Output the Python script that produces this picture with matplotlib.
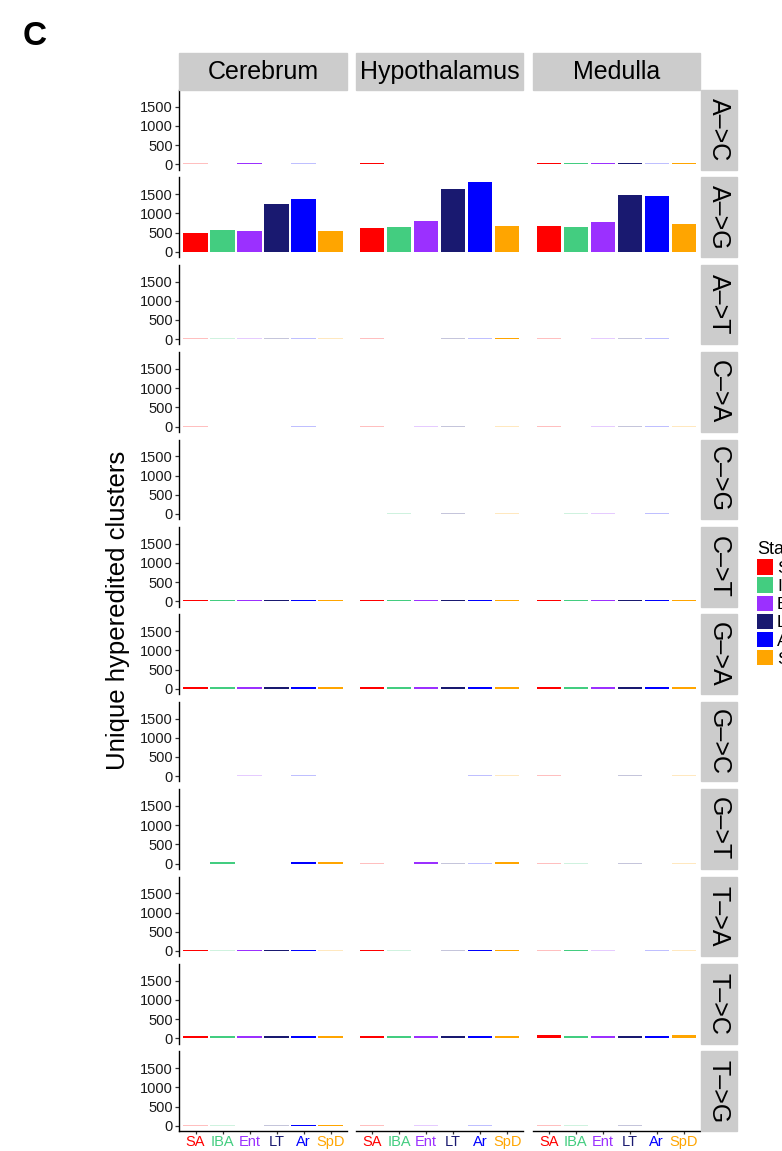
import matplotlib
matplotlib.use("Agg")
import matplotlib.pyplot as plt
from matplotlib.patches import Rectangle, Patch

plt.rcParams["font.family"] = ["Liberation Sans", "DejaVu Sans"]

tissues = ["Cerebrum", "Hypothalamus", "Medulla"]
states = ["SA", "IBA", "Ent", "LT", "Ar", "SpD"]
state_colors = ["#FF0000", "#43CD80", "#9B30FF", "#191970", "#0000FF", "#FFA500"]
mutations = ["A–>C", "A–>G", "A–>T", "C–>A", "C–>G", "C–>T",
             "G–>A", "G–>C", "G–>T", "T–>A", "T–>C", "T–>G"]

# unique hyperedited clusters per mutation (rows) and state (columns)
cerebrum_counts = [
    [25, 0, 25, 0, 25, 0],
    [490, 560, 540, 1250, 1380, 540],
    [25, 25, 25, 25, 25, 20],
    [25, 0, 0, 0, 25, 0],
    [0, 0, 0, 0, 0, 0],
    [35, 35, 35, 35, 35, 30],
    [35, 35, 35, 35, 35, 35],
    [0, 0, 20, 0, 25, 0],
    [0, 30, 0, 0, 30, 30],
    [35, 25, 35, 35, 35, 25],
    [55, 55, 55, 50, 50, 55],
    [20, 20, 0, 20, 30, 30],
]
hypothalamus_counts = [
    [30, 0, 20, 0, 20, 20],
    [610, 640, 800, 1640, 1820, 670],
    [25, 0, 0, 25, 25, 30],
    [25, 0, 25, 25, 0, 25],
    [0, 25, 0, 25, 0, 25],
    [35, 35, 35, 35, 35, 30],
    [35, 35, 35, 35, 35, 35],
    [0, 0, 0, 0, 25, 20],
    [20, 0, 30, 20, 25, 30],
    [35, 20, 0, 25, 35, 35],
    [55, 55, 55, 50, 50, 55],
    [20, 0, 20, 0, 20, 0],
]
medulla_counts = [
    [30, 30, 30, 30, 25, 30],
    [665, 640, 770, 1480, 1460, 715],
    [25, 0, 25, 25, 25, 0],
    [25, 0, 25, 25, 25, 25],
    [0, 25, 25, 0, 25, 0],
    [35, 35, 35, 35, 35, 30],
    [35, 35, 35, 35, 35, 35],
    [20, 0, 0, 20, 0, 20],
    [20, 20, 0, 20, 0, 20],
    [20, 35, 20, 0, 20, 20],
    [80, 55, 55, 50, 50, 75],
    [20, 20, 0, 20, 0, 0],
]

# 1 = significant (solid), 0 = not significant (faded)
cerebrum_sig = [
    [0, 0, 1, 0, 0, 0],
    [1, 1, 1, 1, 1, 1],
    [0, 0, 0, 0, 0, 0],
    [0, 0, 0, 0, 0, 0],
    [0, 0, 0, 0, 0, 0],
    [1, 1, 1, 1, 1, 1],
    [1, 1, 1, 1, 1, 1],
    [0, 0, 0, 0, 0, 0],
    [0, 1, 0, 0, 1, 1],
    [1, 0, 1, 1, 1, 0],
    [1, 1, 1, 1, 1, 1],
    [0, 0, 0, 0, 1, 1],
]
hypothalamus_sig = [
    [1, 0, 0, 0, 0, 0],
    [1, 1, 1, 1, 1, 1],
    [0, 0, 0, 0, 0, 1],
    [0, 0, 0, 0, 0, 0],
    [0, 0, 0, 0, 0, 0],
    [1, 1, 1, 1, 1, 1],
    [1, 1, 1, 1, 1, 1],
    [0, 0, 0, 0, 0, 0],
    [0, 0, 1, 0, 0, 1],
    [1, 0, 0, 0, 1, 1],
    [1, 1, 1, 1, 1, 1],
    [0, 0, 0, 0, 0, 0],
]
medulla_sig = [
    [1, 1, 1, 1, 0, 1],
    [1, 1, 1, 1, 1, 1],
    [0, 0, 0, 0, 0, 0],
    [0, 0, 0, 0, 0, 0],
    [0, 0, 0, 0, 0, 0],
    [1, 1, 1, 1, 1, 1],
    [1, 1, 1, 1, 1, 1],
    [0, 0, 0, 0, 0, 0],
    [0, 0, 0, 0, 0, 0],
    [0, 1, 0, 0, 0, 0],
    [1, 1, 1, 1, 1, 1],
    [0, 0, 0, 0, 0, 0],
]

counts_by_tissue = [cerebrum_counts, hypothalamus_counts, medulla_counts]
sig_by_tissue = [cerebrum_sig, hypothalamus_sig, medulla_sig]

W, H = 782, 1151
fig = plt.figure(figsize=(W / 100, H / 100), dpi=100)


def fbox(x, y, w, h):
    return [x / W, 1 - (y + h) / H, w / W, h / H]


col_left = [179.3, 355.9, 532.5]
panel_w = 167.5
row_top0, row_pitch, panel_h = 90.0, 87.4, 79.5
strip_gray = "#CCCCCC"
x = list(range(1, len(states) + 1))

for c, tissue in enumerate(tissues):
    # column strip
    fig.patches.append(Rectangle((col_left[c] / W, 1 - 90 / H), panel_w / W, 36.7 / H,
                                 transform=fig.transFigure, color=strip_gray, zorder=0))
    fig.text((col_left[c] + panel_w / 2) / W, 1 - 72 / H, tissue,
             ha="center", va="center", fontsize=18)
    for r, mut in enumerate(mutations):
        top = row_top0 + r * row_pitch
        ax = fig.add_axes(fbox(col_left[c], top, panel_w, panel_h))
        vals = counts_by_tissue[c][r]
        sig = sig_by_tissue[c][r]
        for xi, v, s, col in zip(x, vals, sig, state_colors):
            ax.bar(xi, v, width=0.9, color=col, alpha=1.0 if s else 0.25, linewidth=0)
        ax.set_xlim(0.4, 6.6)
        ax.set_ylim(-135, 1935)
        for side in ["top", "right"]:
            ax.spines[side].set_visible(False)
        ax.spines["left"].set_visible(c == 0)
        ax.spines["bottom"].set_visible(r == len(mutations) - 1)
        ax.spines["left"].set_linewidth(1.0)
        ax.spines["bottom"].set_linewidth(1.0)
        ax.tick_params(axis="y", length=3.0, width=0.9, color="#333333",
                       labelsize=10.5, labelcolor="#1a1a1a", pad=1.5)
        ax.tick_params(axis="x", length=2.5, width=0.9, color="#333333",
                       labelsize=10.5, pad=0.5)
        if c == 0:
            ax.set_yticks([0, 500, 1000, 1500])
        else:
            ax.set_yticks([])
        if r == len(mutations) - 1:
            ax.set_xticks(x)
            ax.set_xticklabels(states)
            for lbl, col in zip(ax.get_xticklabels(), state_colors):
                lbl.set_color(col)
        else:
            ax.set_xticks([])
        if c == len(tissues) - 1:
            # row strip on the right
            fig.patches.append(Rectangle((700.5 / W, 1 - (top + panel_h) / H), 36.5 / W,
                                         panel_h / H, transform=fig.transFigure,
                                         color=strip_gray, zorder=0))
            fig.text(718.5 / W, 1 - (top + panel_h / 2) / H, mut, rotation=-90,
                     ha="center", va="center", fontsize=18)

fig.text(118 / W, 1 - 610 / H, "Unique hyperedited clusters", rotation=90,
         ha="center", va="center", fontsize=18.5)
fig.text(23 / W, 1 - 45 / H, "C", fontsize=24, fontweight="bold", ha="left", va="baseline")

handles = [Patch(facecolor=col, edgecolor="none") for col in state_colors]
fig.legend(handles, states, title="State", loc="upper left",
           bbox_to_anchor=(757 / W, 1 - 541 / H), frameon=False, fontsize=12.5,
           title_fontsize=13, handlelength=0.95, handleheight=1.0,
           labelspacing=0.08, handletextpad=0.2, borderpad=0, borderaxespad=0,
           alignment="left")

fig.savefig("out.png", dpi=100)
